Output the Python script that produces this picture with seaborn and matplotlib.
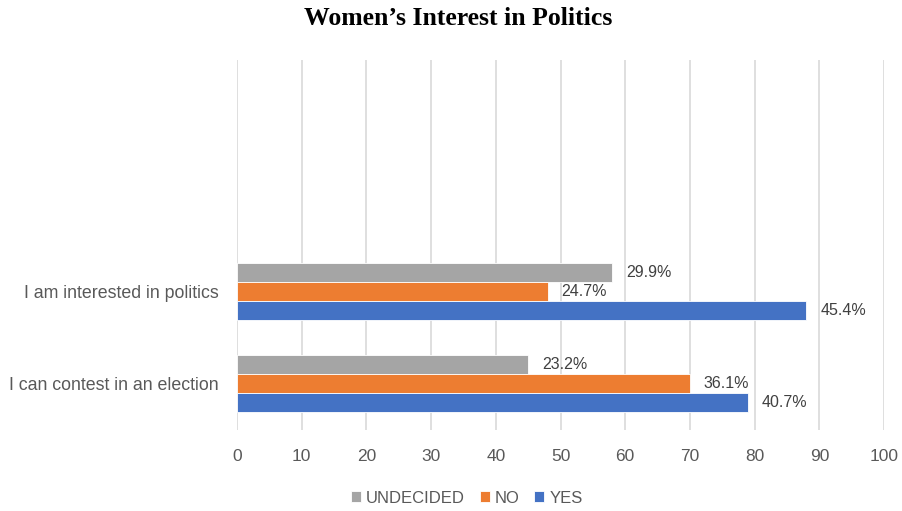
import matplotlib
matplotlib.use("Agg")
import matplotlib.pyplot as plt
import seaborn as sns
import pandas as pd

categories = ["I am interested in politics", "I can contest in an election"]
responses = ["UNDECIDED", "NO", "YES"]
undecided_vals = [58, 45]
no_vals = [48, 70]
yes_vals = [88, 79]
undecided_labels = ["29.9%", "23.2%"]
no_labels = ["24.7%", "36.1%"]
yes_labels = ["45.4%", "40.7%"]
xticks = [0, 10, 20, 30, 40, 50, 60, 70, 80, 90, 100]
colors = ["#A5A5A5", "#ED7D31", "#4472C4"]

rows = []
for r, vals in zip(responses, [undecided_vals, no_vals, yes_vals]):
    for c, v in zip(categories, vals):
        rows.append({"Category": c, "Response": r, "Value": v})
df = pd.DataFrame(rows)

sns.set_theme(style="white")
plt.rcParams["font.family"] = ["Liberation Sans", "DejaVu Sans"]

fig = plt.figure(figsize=(9.03, 5.11), dpi=100)
ax = fig.add_axes([0.2625, 0.1585, 0.7165, 0.7241])

sns.barplot(data=df, y="Category", x="Value", hue="Response", order=categories,
            hue_order=responses, palette=colors, saturation=1, width=0.62, orient="h",
            edgecolor="white", linewidth=0.6, ax=ax, legend=True)

for cont, labs in zip(ax.containers, [undecided_labels, no_labels, yes_labels]):
    ax.bar_label(cont, labels=labs, padding=10, fontsize=11.5, color="#404040")

ax.set_xlim(0, 100)
ax.set_ylim(1.5, -2.5)
ax.set_xticks(xticks)
ax.set_xticklabels([str(t) for t in xticks])
ax.xaxis.grid(True, color="#D9D9D9", linewidth=1.2)
ax.set_axisbelow(True)
for s in ax.spines.values():
    s.set_visible(False)
ax.tick_params(axis="x", colors="#595959", labelsize=12.5, length=0, pad=14)
ax.tick_params(axis="y", colors="#595959", labelsize=12.8, length=0, pad=13)
ax.set_xlabel("")
ax.set_ylabel("")

leg = ax.legend(loc="lower center", bbox_to_anchor=(0.355, -0.245), ncol=3, frameon=False,
                fontsize=12, handlelength=0.6, handleheight=0.6, handletextpad=0.3,
                columnspacing=0.9, labelcolor="#595959")

fig.text(0.507, 0.963, "Women\u2019s Interest in Politics", ha="center", va="center",
         fontsize=18.5, fontweight="bold", family=["Liberation Serif", "DejaVu Serif"],
         color="black")

fig.savefig("out.png", dpi=100)
